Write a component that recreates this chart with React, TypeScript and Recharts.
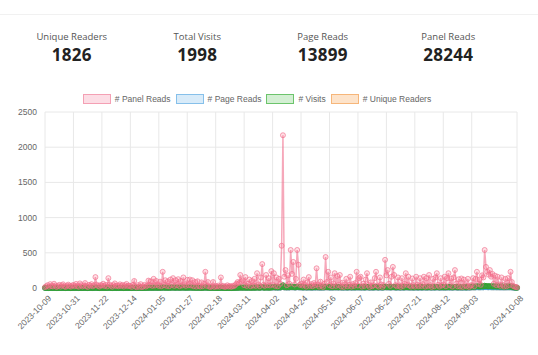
import { LineChart, Line, XAxis, YAxis, CartesianGrid } from 'recharts'

// daily categories, 2023-10-09 .. 2024-10-08
const START = Date.UTC(2023, 9, 9)
const dates = Array.from({ length: 366 }, (_, i) =>
  new Date(START + i * 86400000).toISOString().slice(0, 10)
)

const tickLabels = [
  '2023-10-09', '2023-10-31', '2023-11-22', '2023-12-14', '2024-01-05', '2024-01-27',
  '2024-02-18', '2024-03-11', '2024-04-02', '2024-04-24', '2024-05-16', '2024-06-07',
  '2024-06-29', '2024-07-21', '2024-08-12', '2024-09-03', '2024-10-08',
]
const yTicks = [0, 500, 1000, 1500, 2000, 2500]

const stats = [
  { label: 'Unique Readers', value: 1826 },
  { label: 'Total Visits', value: 1998 },
  { label: 'Page Reads', value: 13899 },
  { label: 'Panel Reads', value: 28244 },
]

const panelReads = [
  12, 25, 40, 18, 55, 30, 22, 60, 35, 15, 28, 45, 20, 38, 52, 24, 16, 33, 48, 27, 19, 36,
  42, 25, 58, 30, 18, 65, 40, 22, 35, 70, 28, 15, 45, 32, 55, 24, 38, 155, 48, 30, 20, 42,
  35, 60, 28, 45, 22, 140, 50, 32, 18, 40, 65, 28, 36, 24, 52, 30, 44, 20, 38, 58, 26, 34,
  30, 15, 45, 100, 20, 10, 40, 18, 55, 12, 25, 45, 20, 35, 105, 40, 95, 30, 130, 35, 100, 50,
  30, 90, 25, 230, 40, 110, 30, 95, 25, 120, 45, 140, 30, 110, 40, 125, 25, 100, 35, 150, 50, 30,
  115, 40, 120, 35, 110, 25, 85, 20, 95, 30, 20, 80, 25, 60, 230, 30, 85, 20, 15, 25, 85, 15,
  28, 20, 35, 18, 150, 25, 30, 15, 22, 38, 20, 28, 16, 30, 25, 40, 60, 85, 70, 185, 95, 110,
  40, 155, 30, 60, 120, 25, 100, 35, 130, 30, 210, 50, 25, 150, 340, 45, 30, 185, 40, 140, 35, 240,
  50, 210, 30, 150, 25, 130, 60, 600, 2170, 160, 255, 40, 180, 60, 540, 200, 370, 50, 130, 540, 330, 45,
  60, 35, 120, 45, 20, 80, 155, 30, 55, 25, 70, 40, 280, 50, 20, 90, 35, 15, 60, 440, 85, 230,
  40, 150, 25, 65, 210, 30, 170, 45, 185, 20, 75, 15, 50, 130, 25, 45, 160, 20, 55, 30, 70, 230,
  35, 140, 160, 20, 60, 30, 120, 210, 45, 15, 80, 25, 40, 140, 230, 35, 20, 150, 50, 15, 40, 400,
  180, 255, 60, 30, 160, 300, 185, 40, 25, 150, 35, 15, 140, 30, 60, 210, 45, 160, 35, 20, 135, 40,
  20, 160, 45, 25, 140, 30, 55, 160, 20, 140, 30, 185, 40, 15, 130, 25, 150, 210, 45, 20, 140, 35,
  50, 160, 25, 140, 210, 40, 135, 20, 150, 255, 60, 25, 125, 20, 135, 15, 120, 40, 25, 130, 15, 35,
  40, 140, 25, 130, 230, 60, 120, 45, 180, 150, 540, 300, 230, 190, 255, 160, 200, 60, 175, 40, 160, 50,
  30, 150, 45, 20, 130, 25, 140, 40, 230, 85, 30, 20, 15, 10,
]

// page reads stay under the green line in the picture
const pageReads = [
  1, 0, 2, 0, 2, 1, 0, 2, 1, 0, 1, 2, 0, 1, 2, 1, 0, 1, 2, 0, 0, 1,
  2, 0, 3, 1, 0, 2, 1, 0, 1, 3, 0, 0, 2, 1, 2, 0, 1, 4, 2, 0, 0, 1,
  1, 2, 0, 1, 0, 3, 2, 1, 0, 1, 2, 0, 1, 0, 2, 1, 1, 0, 1, 2, 0, 1,
  2, 0, 2, 3, 1, 0, 2, 1, 3, 0, 1, 2, 1, 2, 4, 3, 3, 2, 4, 3, 4, 3,
  3, 3, 2, 6, 3, 4, 3, 4, 2, 5, 4, 6, 3, 5, 4, 5, 3, 5, 4, 6, 4, 3,
  4, 4, 5, 4, 5, 3, 4, 2, 4, 3, 2, 3, 2, 4, 6, 3, 4, 2, 1, 2, 3, 1,
  1, 0, 1, 0, 3, 1, 1, 0, 0, 1, 0, 1, 0, 1, 1, 2, 3, 4, 3, 6, 4, 4,
  4, 5, 3, 4, 5, 3, 4, 3, 5, 3, 7, 5, 4, 5, 9, 5, 4, 6, 5, 5, 4, 7,
  5, 7, 4, 6, 3, 5, 4, 11, 26, 6, 8, 5, 6, 5, 12, 7, 9, 6, 5, 11, 8, 6,
  6, 5, 5, 6, 4, 5, 6, 4, 5, 4, 5, 5, 8, 5, 4, 5, 5, 4, 5, 10, 6, 7,
  5, 5, 4, 6, 7, 5, 6, 5, 7, 4, 5, 4, 5, 5, 4, 5, 6, 4, 5, 4, 5, 7,
  5, 5, 6, 4, 5, 4, 5, 7, 5, 4, 5, 4, 4, 5, 7, 5, 4, 5, 5, 4, 4, 10,
  6, 8, 5, 5, 6, 8, 6, 5, 4, 5, 5, 4, 5, 4, 5, 7, 5, 6, 5, 4, 5, 4,
  4, 5, 5, 4, 5, 4, 5, 6, 4, 5, 4, 6, 5, 4, 5, 4, 5, 7, 5, 4, 5, 4,
  5, 5, 4, 5, 7, 5, 5, 4, 5, 8, 5, 4, 5, 4, 5, 4, 5, 4, 4, 5, 4, 6,
  7, 8, 6, 8, 10, 8, 8, 8, 9, 8, 15, 11, 10, 9, 11, 8, 9, 8, 9, 8, 8, 8,
  7, 8, 7, 6, 8, 7, 8, 7, 10, 6, 4, 3, 2, 1,
]

const visits = [
  2, 1, 3, 0, 4, 2, 1, 3, 2, 0, 1, 3, 1, 2, 4, 1, 0, 2, 3, 1, 0, 2,
  3, 1, 4, 2, 0, 3, 2, 1, 2, 4, 1, 0, 3, 2, 3, 1, 2, 6, 3, 1, 0, 2,
  2, 3, 1, 2, 1, 5, 3, 2, 0, 2, 3, 1, 2, 1, 3, 2, 2, 0, 2, 3, 1, 2,
  3, 1, 3, 4, 2, 1, 3, 2, 4, 1, 2, 3, 2, 3, 5, 4, 5, 3, 6, 4, 5, 4,
  4, 5, 3, 9, 4, 6, 4, 5, 3, 7, 5, 8, 4, 6, 5, 7, 4, 6, 5, 8, 5, 4,
  6, 5, 7, 5, 6, 4, 5, 3, 5, 4, 3, 4, 3, 5, 9, 4, 5, 3, 2, 3, 4, 2,
  2, 1, 2, 1, 5, 2, 2, 1, 1, 2, 1, 2, 1, 2, 2, 3, 4, 5, 4, 8, 5, 6,
  5, 7, 4, 5, 6, 4, 5, 5, 7, 4, 9, 6, 5, 7, 12, 6, 5, 8, 6, 7, 5, 9,
  10, 14, 9, 12, 8, 11, 10, 20, 40, 12, 16, 10, 13, 12, 22, 14, 18, 12, 11, 20, 16, 13,
  12, 11, 11, 13, 10, 12, 12, 10, 11, 10, 12, 11, 16, 11, 10, 12, 11, 10, 12, 19, 12, 14,
  11, 12, 10, 12, 14, 11, 13, 11, 13, 10, 12, 10, 11, 11, 10, 11, 13, 10, 12, 10, 11, 14,
  11, 12, 13, 10, 11, 10, 11, 14, 12, 10, 11, 10, 11, 12, 14, 11, 10, 12, 11, 10, 11, 18,
  13, 15, 12, 11, 12, 16, 13, 11, 10, 12, 11, 10, 12, 10, 11, 14, 12, 12, 11, 10, 11, 10,
  10, 12, 11, 10, 12, 10, 11, 12, 11, 12, 10, 13, 11, 10, 11, 10, 12, 14, 11, 10, 12, 11,
  11, 12, 10, 12, 14, 11, 11, 10, 12, 15, 12, 11, 11, 10, 12, 10, 11, 11, 10, 12, 11, 13,
  18, 20, 17, 20, 24, 22, 20, 22, 24, 22, 32, 26, 25, 24, 26, 22, 24, 21, 24, 21, 22, 21,
  19, 22, 20, 17, 20, 19, 22, 19, 24, 17, 12, 8, 6, 4,
]

const uniqueReaders = [
  2, 1, 3, 0, 3, 2, 1, 3, 2, 0, 1, 2, 1, 2, 3, 1, 0, 2, 3, 1, 0, 2,
  2, 1, 4, 2, 0, 3, 2, 1, 2, 3, 1, 0, 3, 2, 3, 1, 2, 5, 3, 1, 0, 2,
  2, 3, 1, 2, 1, 4, 3, 2, 0, 2, 3, 1, 2, 1, 3, 2, 2, 0, 2, 3, 1, 2,
  3, 1, 3, 4, 2, 1, 3, 2, 3, 1, 2, 3, 2, 3, 5, 4, 4, 3, 5, 4, 5, 4,
  4, 4, 3, 8, 4, 5, 4, 5, 3, 6, 5, 7, 4, 6, 5, 6, 4, 6, 5, 7, 5, 4,
  5, 5, 6, 5, 6, 4, 5, 3, 5, 4, 3, 4, 3, 5, 8, 4, 5, 3, 2, 3, 4, 2,
  2, 1, 2, 1, 4, 2, 2, 1, 1, 2, 1, 2, 1, 2, 2, 3, 4, 5, 4, 7, 5, 5,
  5, 6, 4, 5, 6, 4, 5, 4, 6, 4, 8, 6, 5, 6, 11, 6, 5, 7, 6, 6, 5, 8,
  6, 8, 5, 7, 4, 6, 5, 13, 32, 7, 9, 6, 7, 6, 14, 8, 11, 7, 6, 13, 10, 7,
  7, 6, 6, 7, 5, 6, 7, 5, 6, 5, 6, 6, 9, 6, 5, 6, 6, 5, 6, 12, 7, 8,
  6, 6, 5, 7, 8, 6, 7, 6, 8, 5, 6, 5, 6, 6, 5, 6, 7, 5, 6, 5, 6, 8,
  6, 6, 7, 5, 6, 5, 6, 8, 6, 5, 6, 5, 5, 6, 8, 6, 5, 6, 6, 5, 5, 12,
  7, 9, 6, 6, 7, 10, 7, 6, 5, 6, 6, 5, 6, 5, 6, 8, 6, 7, 6, 5, 6, 5,
  5, 6, 6, 5, 6, 5, 6, 7, 5, 6, 5, 7, 6, 5, 6, 5, 6, 8, 6, 5, 6, 5,
  6, 6, 5, 6, 8, 6, 6, 5, 6, 9, 6, 5, 6, 5, 6, 5, 6, 5, 5, 6, 5, 7,
  8, 9, 7, 9, 12, 10, 9, 10, 11, 10, 18, 13, 12, 11, 13, 10, 11, 9, 11, 9, 10, 9,
  8, 10, 9, 7, 9, 8, 10, 8, 12, 7, 5, 4, 3, 2,
]

const data = dates.map((date, i) => ({
  date,
  panel: panelReads[i],
  page: pageReads[i],
  visits: visits[i],
  unique: uniqueReaders[i],
}))

const legendItems = [
  { name: '# Panel Reads', border: '#f4a0b4', fill: '#fcdde5' },
  { name: '# Page Reads', border: '#86c0ea', fill: '#d8ebf9' },
  { name: '# Visits', border: '#6cc46c', fill: '#d3efd3' },
  { name: '# Unique Readers', border: '#f6b67a', fill: '#fde3ca' },
]

const FONT = '"Liberation Sans", Arial, sans-serif'

const XTick = ({ x, y, payload }: any) => (
  <text
    x={x + 2}
    y={y - 2}
    dy={7}
    transform={`rotate(-45 ${x + 2} ${y - 2})`}
    textAnchor="end"
    fontSize={8.5}
    fill="#666"
    fontFamily={FONT}
  >
    {payload.value}
  </text>
)

export default function App() {
  return (
    <div style={{ position: 'absolute', left: 0, top: 0, width: 538, height: 355, background: '#fff', overflow: 'hidden' }}>
      <div style={{ position: 'absolute', left: 0, right: 0, top: 14, borderTop: '1px solid #f1f1f1' }} />

      <div style={{ position: 'absolute', left: 9, top: 30, width: 502, display: 'flex', fontFamily: '"Open Sans", sans-serif' }}>
        {stats.map((s) => (
          <div key={s.label} style={{ flex: 1, textAlign: 'center' }}>
            <div style={{ fontSize: 9.5, lineHeight: '14px', color: '#555' }}>{s.label}</div>
            <div style={{ fontSize: 17, lineHeight: '21px', fontWeight: 700, color: '#222', letterSpacing: 0.3 }}>{s.value}</div>
          </div>
        ))}
      </div>

      <div style={{ position: 'absolute', left: 0, top: 94, width: 514, display: 'flex', justifyContent: 'center', fontFamily: FONT, fontSize: 8.5, color: '#666' }}>
        {legendItems.map((l) => (
          <div key={l.name} style={{ display: 'flex', alignItems: 'center', margin: '0 2.5px' }}>
            <span style={{ width: 26, height: 8, border: `1.5px solid ${l.border}`, background: l.fill, marginRight: 4 }} />
            <span style={{ lineHeight: '10px' }}>{l.name}</span>
          </div>
        ))}
      </div>

      <div style={{ position: 'absolute', left: 0, top: 85 }}>
        <LineChart width={538} height={270} data={data} margin={{ top: 27, right: 21, bottom: 7, left: 5 }}>
          <CartesianGrid stroke="#e8e8e8" />
          <XAxis
            dataKey="date"
            ticks={tickLabels}
            interval={0}
            tick={(p: any) => <XTick {...p} />}
            tickLine={false}
            axisLine={false}
            height={60}
          />
          <YAxis
            domain={[0, 2500]}
            ticks={yTicks}
            width={40}
            tickLine={false}
            axisLine={false}
            tick={{ fontSize: 8.5, fill: '#666', fontFamily: FONT }}
          />
          <Line
            dataKey="unique"
            stroke="rgba(255,159,64,0.7)"
            strokeWidth={1.5}
            dot={{ r: 2.5, fill: 'rgba(255,159,64,0.3)', stroke: 'rgba(255,159,64,0.7)', strokeWidth: 1 }}
            isAnimationActive={false}
          />
          <Line
            dataKey="page"
            stroke="rgba(54,162,235,0.6)"
            strokeWidth={1.5}
            dot={{ r: 2.5, fill: 'rgba(54,162,235,0.2)', stroke: 'rgba(54,162,235,0.6)', strokeWidth: 1 }}
            isAnimationActive={false}
          />
          <Line
            dataKey="visits"
            stroke="rgb(50,160,50)"
            strokeWidth={2}
            dot={{ r: 2.5, fill: 'rgba(75,180,75,0.4)', stroke: 'rgb(50,160,50)', strokeWidth: 1 }}
            isAnimationActive={false}
          />
          <Line
            dataKey="panel"
            stroke="rgba(240,110,140,0.6)"
            strokeWidth={1.5}
            dot={{ r: 2.5, fill: 'rgba(255,99,132,0.2)', stroke: 'rgba(240,110,140,0.65)', strokeWidth: 1 }}
            isAnimationActive={false}
          />
        </LineChart>
      </div>
    </div>
  )
}
